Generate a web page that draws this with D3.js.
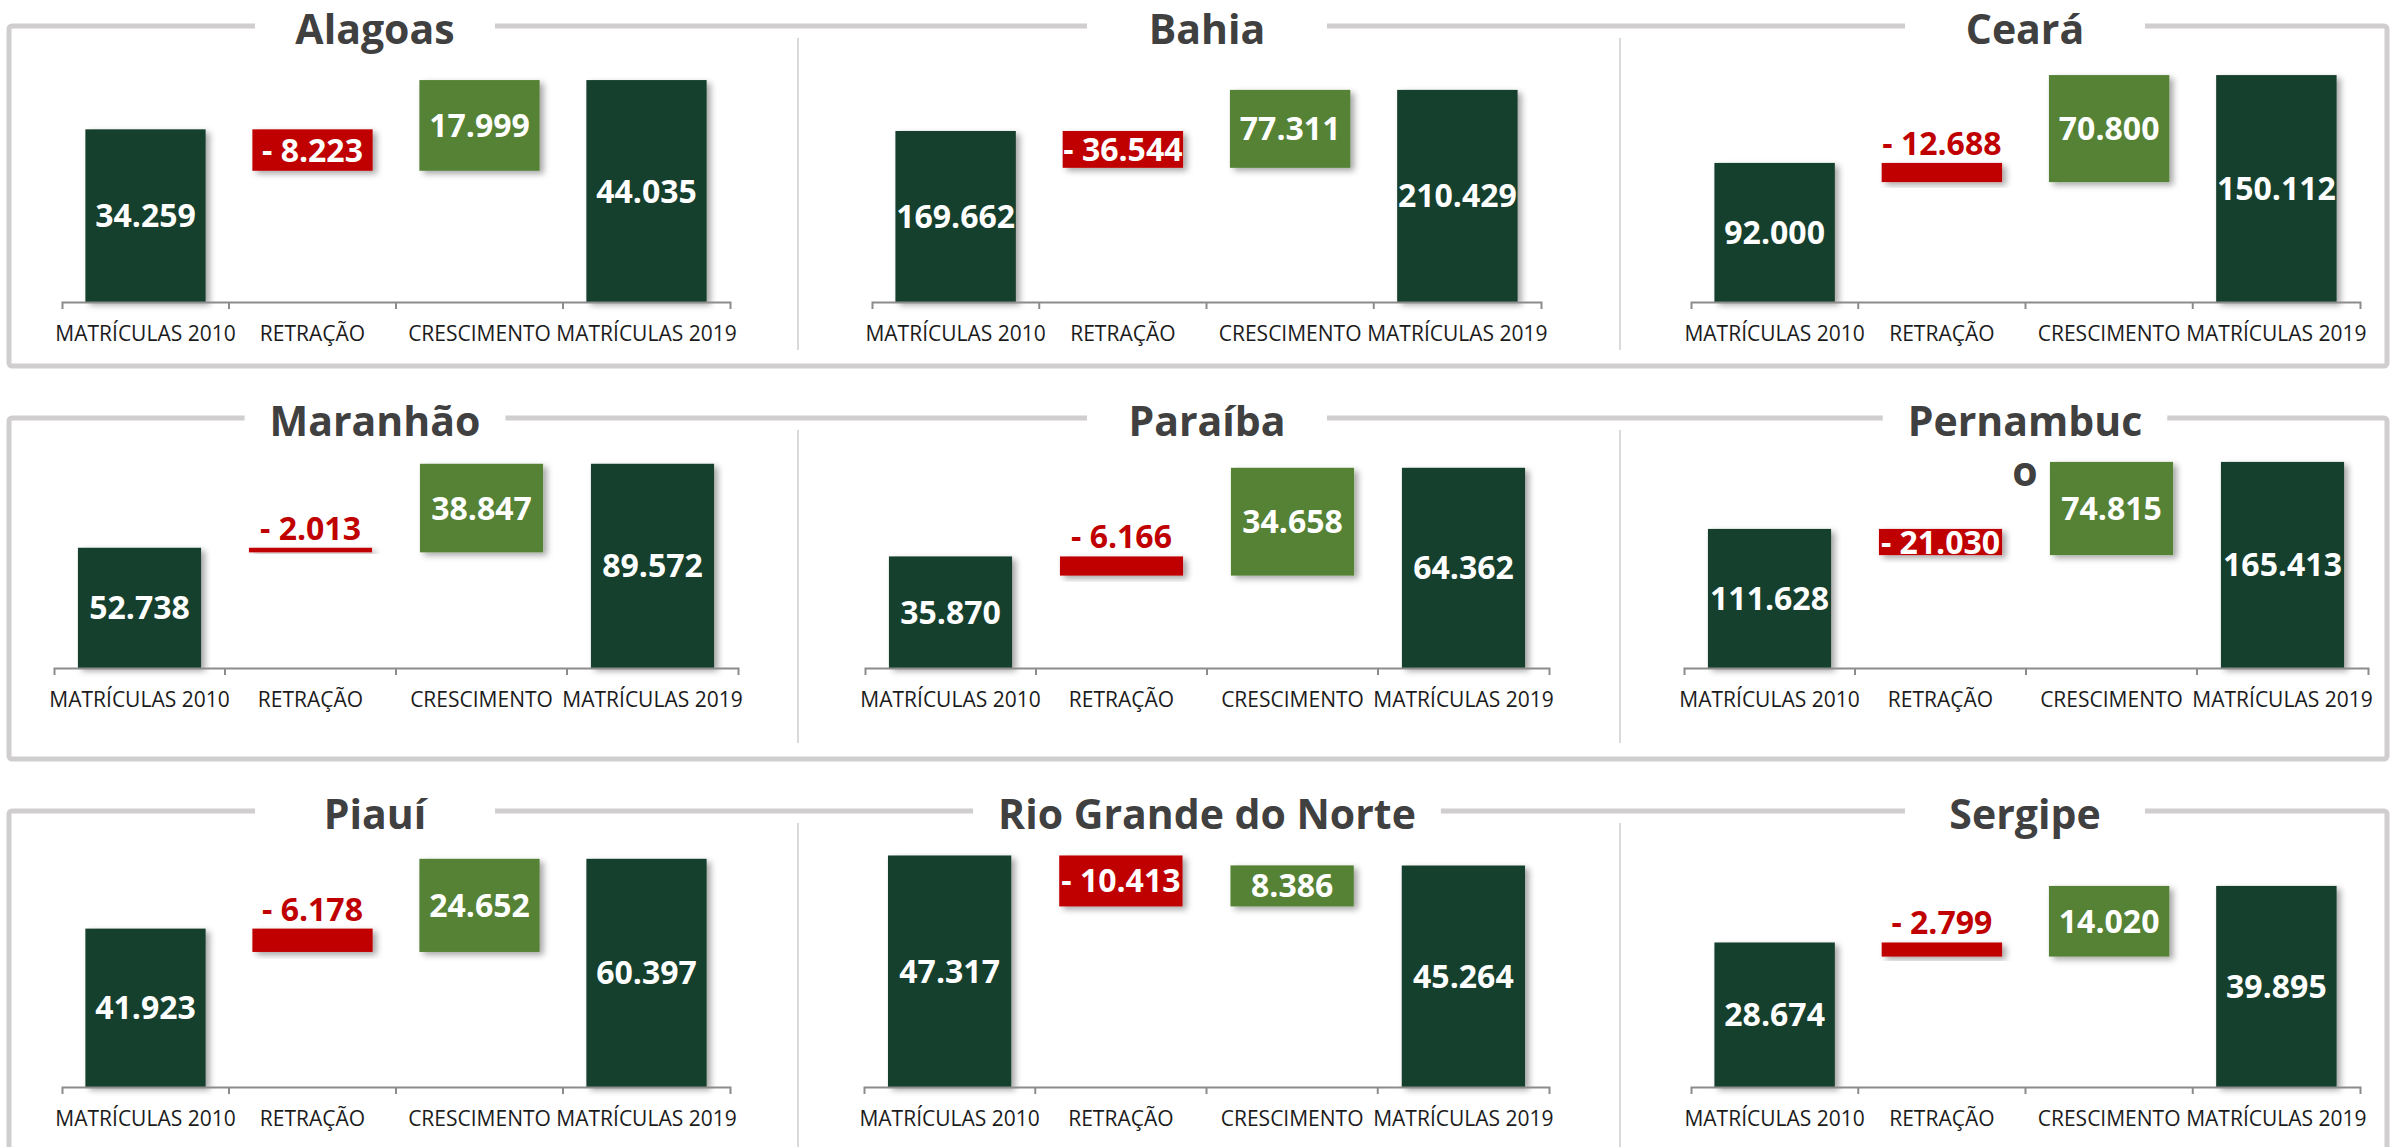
<!DOCTYPE html>
<html lang="pt-BR">
<head>
<meta charset="utf-8">
<title>Matrículas 2010–2019 – Nordeste</title>
<script src="https://cdn.jsdelivr.net/npm/d3@7"></script>
<style>
  html, body { margin: 0; padding: 0; background: #fff; }
  svg { display: block; font-family: "Open Sans", "Noto Sans", sans-serif; }
  .frame { fill: none; stroke: #d0cece; stroke-width: 5; }
  .title-gap { fill: #fff; }
  .divider { stroke: #dadada; stroke-width: 2; }
  .title { fill: #404040; font-weight: 700; font-size: 41px; }
  .axis .domain, .axis-tick { stroke: #8c8c8c; stroke-width: 2; fill: none; }
  .axis text { font-size: 21px; fill: #1b1b1b; }
  .value { font-size: 32px; font-weight: 700; fill: #fff; }
  .value--above { fill: #c00000; }
</style>
</head>
<body>
<svg id="chart"></svg>
<script>
// ---- data ----
const states = ['Alagoas', 'Bahia', 'Ceará', 'Maranhão', 'Paraíba', 'Pernambuco',
  'Piauí', 'Rio Grande do Norte', 'Sergipe'];
// title text as it wraps in the original text boxes
const titleLines = [['Alagoas'], ['Bahia'], ['Ceará'], ['Maranhão'], ['Paraíba'],
  ['Pernambuc', 'o'], ['Piauí'], ['Rio Grande do Norte'], ['Sergipe']];
const categories = ['MATRÍCULAS 2010', 'RETRAÇÃO', 'CRESCIMENTO', 'MATRÍCULAS 2019'];
const matriculas2010 = [34259, 169662, 92000, 52738, 35870, 111628, 41923, 47317, 28674];
const retracao = [8223, 36544, 12688, 2013, 6166, 21030, 6178, 10413, 2799];
const crescimento = [17999, 77311, 70800, 38847, 34658, 74815, 24652, 8386, 14020];
const matriculas2019 = [44035, 210429, 150112, 89572, 64362, 165413, 60397, 45264, 39895];
// value axis maximum of each (hidden) y axis
const axisMax = [50000, 250000, 166700, 100000, 73300, 183000, 66700, 51500, 50000];

// ---- layout ----
const width = 2395;
const height = 1147;
const rows = [
  { top: 26, bottom: 366, axisY: 302, plotH: 252 },
  { top: 418, bottom: 759, axisY: 668, plotH: 228 },
  { top: 811, bottom: 1175, axisY: 1087, plotH: 252 }
];
const axisSpans = [
  [[62, 730], [872, 1541], [1691, 2360]],
  [[54, 738], [865, 1549], [1684, 2368]],
  [[62, 730], [864, 1549], [1691, 2360]]
];
const titleX = [375, 1207, 2025];
const frameX = [9, 2387];
const dividerX = [798, 1620];
const minInsideLabel = 24;

const colors = { total: '#173f2d', down: '#c00000', up: '#548235' };

const ptBR = d3.formatLocale({ decimal: ',', thousands: '.', grouping: [3], currency: ['R$', ''] });
const fmt = ptBR.format(',d');

const svg = d3.select('#chart').attr('width', width).attr('height', height);

const defs = svg.append('defs');
defs.append('filter')
  .attr('id', 'shadow')
  .attr('x', '-20%').attr('y', '-20%')
  .attr('width', '150%').attr('height', '150%')
  .append('feDropShadow')
  .attr('dx', 4).attr('dy', 3)
  .attr('stdDeviation', 3)
  .attr('flood-color', '#000')
  .attr('flood-opacity', 0.35);

// row frames
rows.forEach(row => {
  const g = svg.append('g').attr('class', 'row');
  g.append('rect')
    .attr('class', 'frame')
    .attr('x', frameX[0])
    .attr('y', row.top)
    .attr('width', frameX[1] - frameX[0])
    .attr('height', row.bottom - row.top)
    .attr('rx', 3);
  dividerX.forEach(x => {
    g.append('line')
      .attr('class', 'divider')
      .attr('x1', x).attr('x2', x)
      .attr('y1', row.top + 12)
      .attr('y2', Math.min(row.bottom - 16, height));
  });
});

states.forEach((state, i) => {
  const row = rows[Math.floor(i / 3)];
  const col = i % 3;
  const span = axisSpans[Math.floor(i / 3)][col];

  const m10 = matriculas2010[i];
  const ret = retracao[i];
  const cre = crescimento[i];
  const m19 = matriculas2019[i];

  const steps = [
    { cat: categories[0], y0: 0, y1: m10, kind: 'total', label: fmt(m10) },
    { cat: categories[1], y0: m10 - ret, y1: m10, kind: 'down', label: '- ' + fmt(ret) },
    { cat: categories[2], y0: m10 - ret, y1: m10 - ret + cre, kind: 'up', label: fmt(cre) },
    { cat: categories[3], y0: 0, y1: m19, kind: 'total', label: fmt(m19) }
  ];

  const x = d3.scaleBand()
    .domain(categories)
    .range(span)
    .paddingInner(0.28)
    .paddingOuter(0.14);

  const y = d3.scaleLinear()
    .domain([0, axisMax[i]])
    .range([row.axisY, row.axisY - row.plotH]);

  const g = svg.append('g').attr('class', 'panel');

  // title with a gap in the frame line
  const title = g.append('g').attr('class', 'title-box');
  const gapRect = title.append('rect').attr('class', 'title-gap');
  const text = title.append('text')
    .attr('class', 'title')
    .attr('text-anchor', 'middle');
  titleLines[i].forEach((line, k) => {
    text.append('tspan')
      .attr('x', titleX[col])
      .attr('y', row.top + 18 + k * 50)
      .text(line);
  });
  const textW = text.node().getComputedTextLength
    ? d3.max(text.selectAll('tspan').nodes(), n => n.getComputedTextLength())
    : 200;
  const gapW = Math.max(240, textW + 50);
  gapRect
    .attr('x', titleX[col] - gapW / 2)
    .attr('y', row.top - 6)
    .attr('width', gapW)
    .attr('height', 12);

  // bars
  g.append('g')
    .selectAll('rect')
    .data(steps)
    .join('rect')
    .attr('x', d => x(d.cat))
    .attr('width', x.bandwidth())
    .attr('y', d => y(Math.max(d.y0, d.y1)))
    .attr('height', d => Math.max(1, Math.abs(y(d.y0) - y(d.y1))))
    .attr('fill', d => colors[d.kind])
    .attr('filter', 'url(#shadow)');

  // category axis
  const axis = g.append('g')
    .attr('class', 'axis')
    .attr('transform', `translate(0,${row.axisY})`)
    .call(d3.axisBottom(x).tickSize(0).tickSizeOuter(7).tickPadding(24))
    .attr('font-size', null)
    .attr('font-family', null);

  axis.selectAll('.tick line').remove();

  d3.range(1, categories.length).forEach(k => {
    const bx = span[0] + k * x.step();
    axis.append('line')
      .attr('class', 'axis-tick')
      .attr('x1', bx).attr('x2', bx)
      .attr('y1', 0).attr('y2', 7);
  });

  // value labels
  g.append('g')
    .selectAll('text')
    .data(steps)
    .join('text')
    .attr('class', d => {
      const h = Math.abs(y(d.y0) - y(d.y1));
      return h < minInsideLabel ? 'value value--above' : 'value';
    })
    .attr('text-anchor', 'middle')
    .attr('x', d => x(d.cat) + x.bandwidth() / 2)
    .attr('y', d => {
      const top = y(Math.max(d.y0, d.y1));
      const bottom = y(Math.min(d.y0, d.y1));
      if (bottom - top < minInsideLabel) {
        return top - 8;
      }
      return (top + bottom) / 2 + 11.5;
    })
    .text(d => d.label);
});
</script>
</body>
</html>
